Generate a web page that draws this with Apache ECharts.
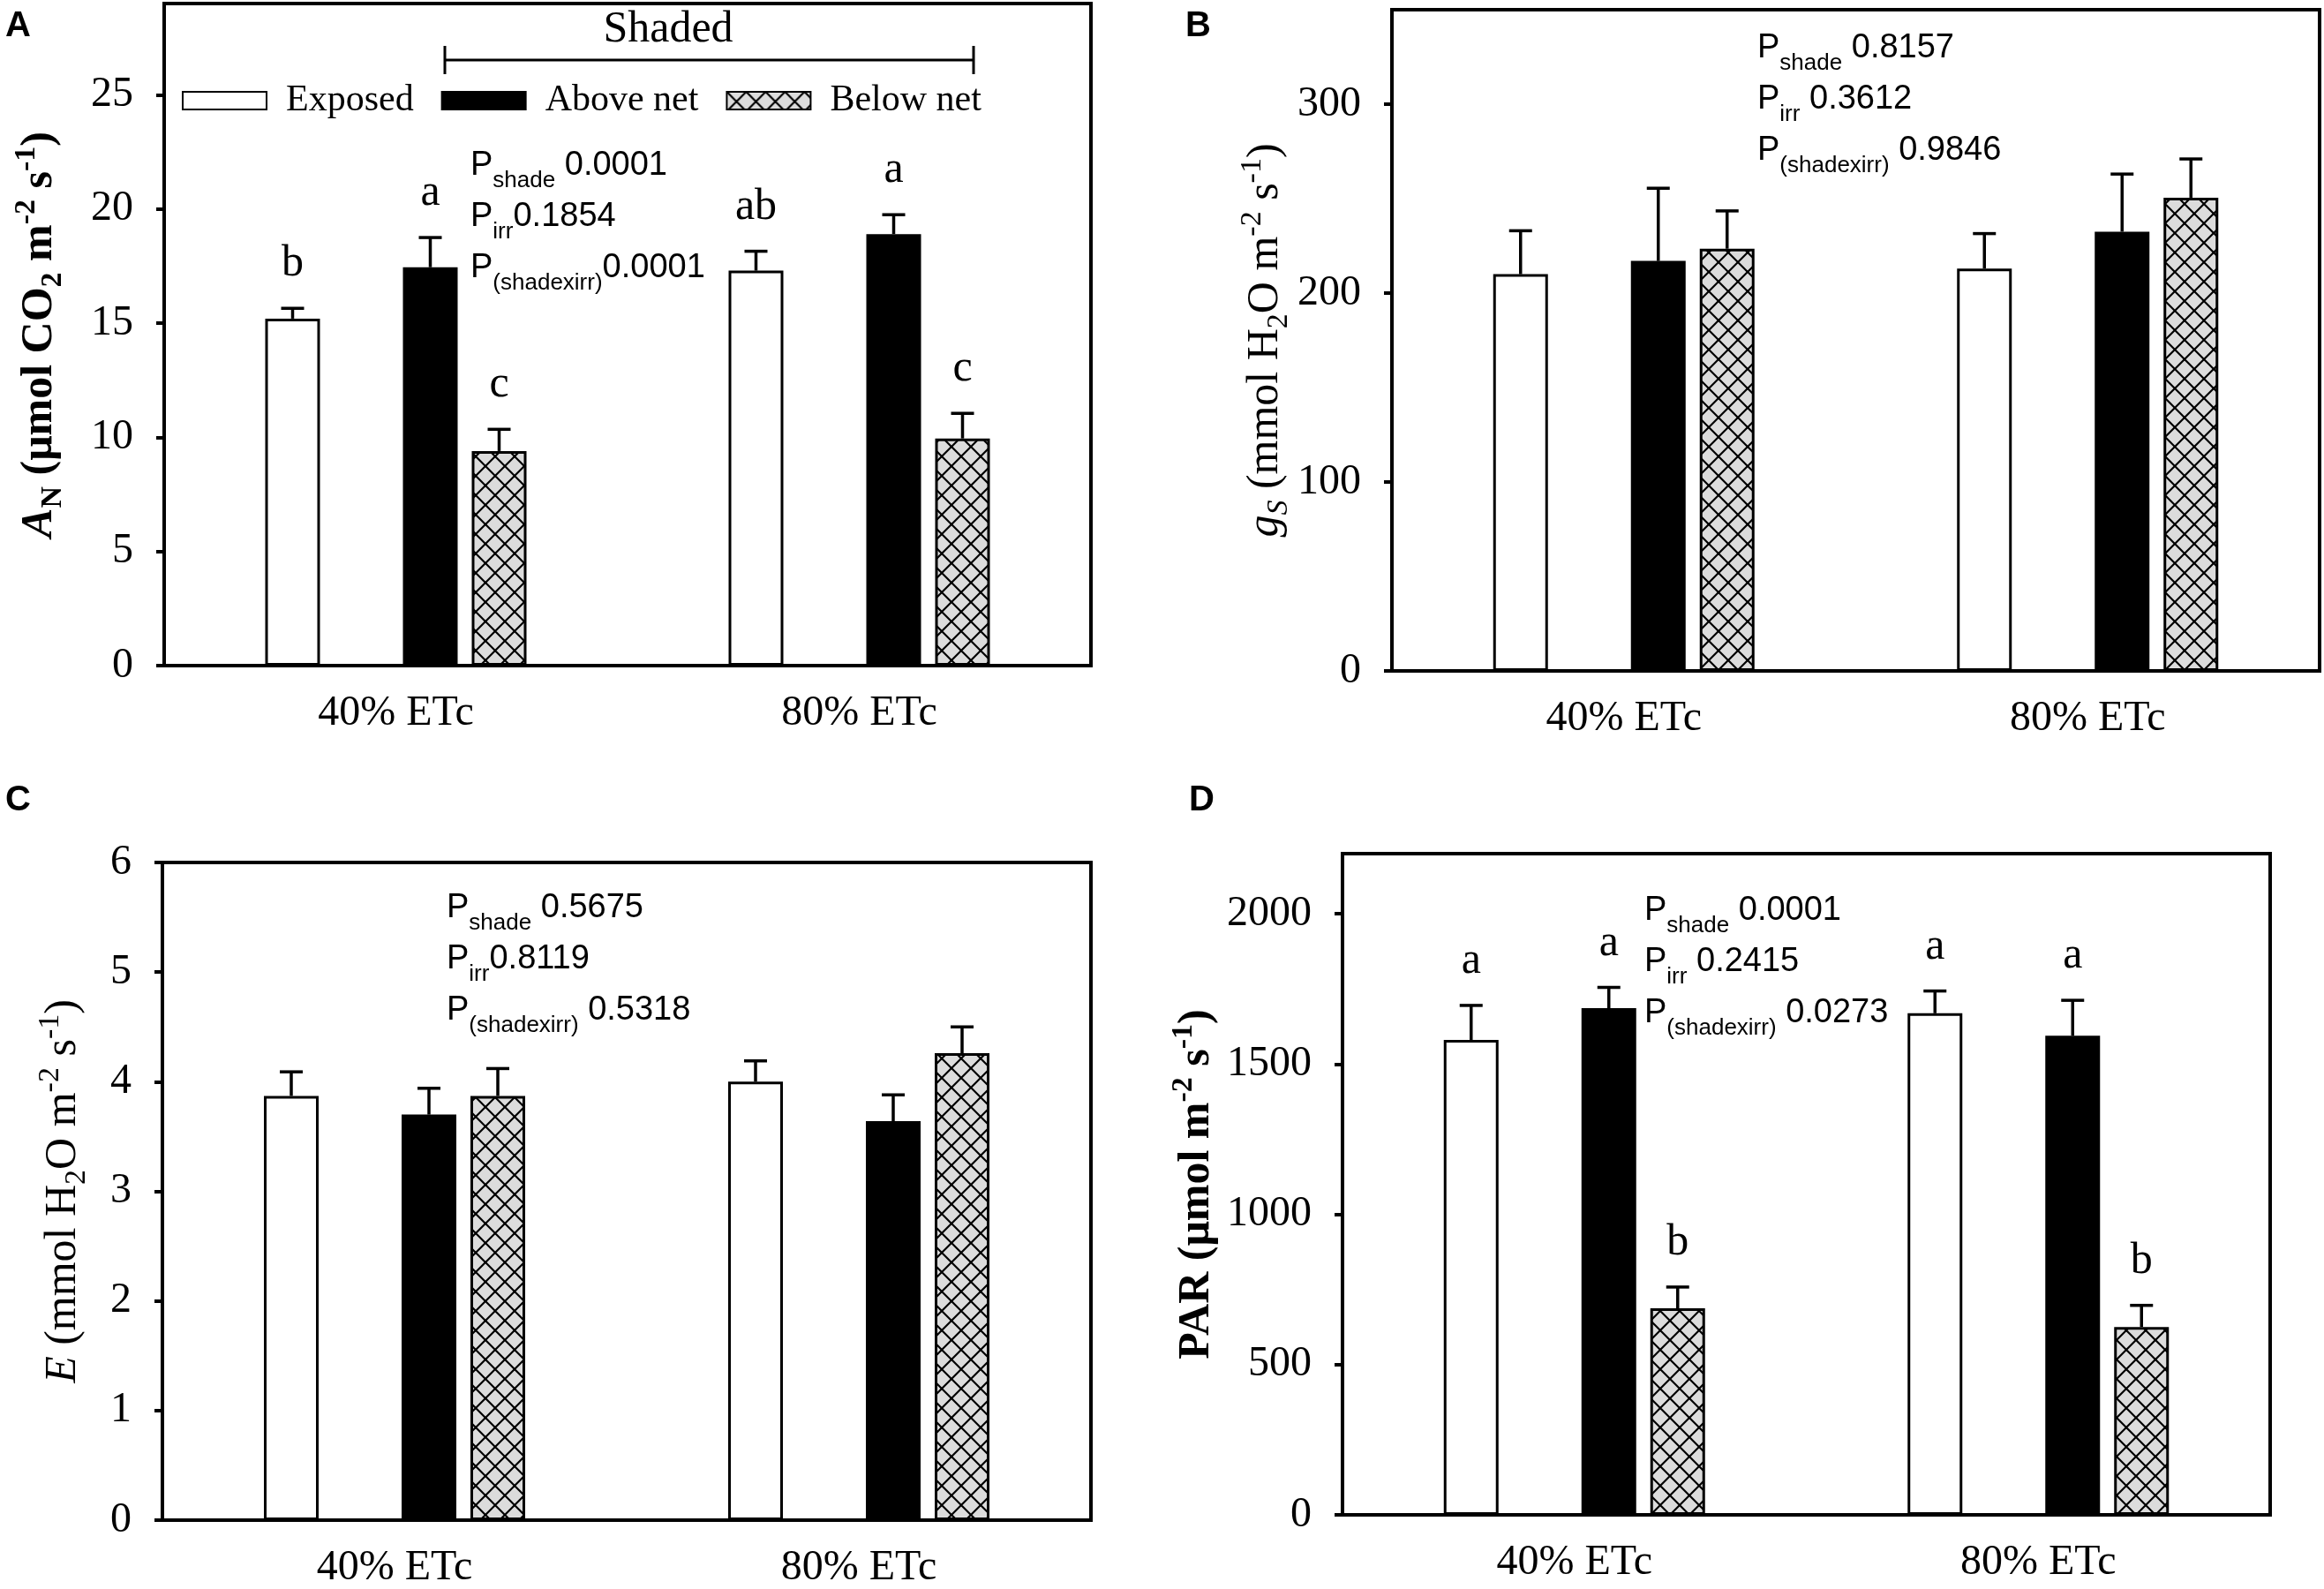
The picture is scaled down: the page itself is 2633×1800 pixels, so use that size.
<!DOCTYPE html>
<html><head><meta charset="utf-8">
<script src="https://cdn.jsdelivr.net/npm/echarts@6/dist/echarts.min.js"></script>
<style>html,body{margin:0;padding:0;background:#fff}#c{width:2633px;height:1800px}</style>
</head><body><div id="c"></div><script>
// ---------- data ----------
const categories = ['40% ETc', '80% ETc'];
const groupNames = ['Exposed', 'Above net', 'Below net'];

// Panel A: net assimilation A_N
const anExposed = [15.2, 17.3];   const anExposedErr = [0.45, 0.85];
const anAbove   = [17.45, 18.9];  const anAboveErr   = [1.3, 0.85];
const anBelow   = [9.4, 9.95];    const anBelowErr   = [0.95, 1.1];
const anExposedLetters = ['b', 'ab'];
const anAboveLetters   = ['a', 'a'];
const anBelowLetters   = ['c', 'c'];
const anTicks = [0, 5, 10, 15, 20, 25];
const anP = ['0.0001', '0.1854', '0.0001'];

// Panel B: stomatal conductance gs
const gsExposed = [210, 213];     const gsExposedErr = [23, 18.5];
const gsAbove   = [217, 232.5];   const gsAboveErr   = [38.5, 30.5];
const gsBelow   = [223.5, 250.5]; const gsBelowErr   = [20, 20.5];
const gsTicks = [0, 100, 200, 300];
const gsP = ['0.8157', '0.3612', '0.9846'];

// Panel C: transpiration E
const eExposed = [3.87, 4.0];     const eExposedErr = [0.22, 0.19];
const eAbove   = [3.70, 3.64];    const eAboveErr   = [0.24, 0.24];
const eBelow   = [3.87, 4.26];    const eBelowErr   = [0.25, 0.24];
const eTicks = [0, 1, 2, 3, 4, 5, 6];
const eP = ['0.5675', '0.8119', '0.5318'];

// Panel D: PAR
const parExposed = [1580, 1669];  const parExposedErr = [115, 74];
const parAbove   = [1686, 1594];  const parAboveErr   = [69, 118];
const parBelow   = [687, 625];    const parBelowErr   = [71, 72];
const parExposedLetters = ['a', 'a'];
const parAboveLetters   = ['a', 'a'];
const parBelowLetters   = ['b', 'b'];
const parTicks = [0, 500, 1000, 1500, 2000];
const parP = ['0.0001', '0.2415', '0.0273'];

// ---------- styling / layout ----------
const SERIF = 'Liberation Serif';
const SANS = 'Liberation Sans';
const BAR_W = 62, BAR_GAP_PX = 16;
const slotOffset = s => (s - 1.5) * (BAR_W + BAR_GAP_PX);

const hatch = (function () {
  const c = document.createElement('canvas');
  c.width = 22; c.height = 22;
  const g = c.getContext('2d');
  g.fillStyle = '#dcdcdc'; g.fillRect(0, 0, 22, 22);
  g.strokeStyle = '#000'; g.lineWidth = 2.2;
  g.beginPath(); g.moveTo(0, 0); g.lineTo(22, 22); g.moveTo(22, 0); g.lineTo(0, 22); g.stroke();
  return c;
})();

const groupStyles = [
  { color: '#ffffff', borderColor: '#000', borderWidth: 3 },
  { color: '#000000', borderColor: '#000', borderWidth: 3 },
  { color: { image: hatch, repeat: 'repeat' }, borderColor: '#000', borderWidth: 3 }
];
const groupSlots = [0, 2, 3];

const panels = [
  { grid: { left: 186, top: 4, width: 1050, height: 750 }, max: 29, interval: 5, ticks: anTicks,
    vals: [anExposed, anAbove, anBelow], errs: [anExposedErr, anAboveErr, anBelowErr],
    letters: [anExposedLetters, anAboveLetters, anBelowLetters],
    name: '{i|A}{sub|N}{t| (μmol CO}{sub|2}{t| m}{sup|-2}{t| s}{sup|-1}{t|)}', nameGap: 109, bold: true },
  { grid: { left: 1577, top: 11, width: 1051, height: 749 }, max: 350, interval: 100, ticks: gsTicks,
    vals: [gsExposed, gsAbove, gsBelow], errs: [gsExposedErr, gsAboveErr, gsBelowErr], letters: null,
    name: '{i|g}{isub|S}{t| (mmol H}{sub|2}{t|O m}{sup|-2}{t| s}{sup|-1}{t|)}', nameGap: 105, bold: false },
  { grid: { left: 184, top: 977, width: 1052, height: 749 }, max: 6, interval: 1, ticks: eTicks,
    vals: [eExposed, eAbove, eBelow], errs: [eExposedErr, eAboveErr, eBelowErr], letters: null,
    name: '{i|E}{t| (mmol H}{sub|2}{t|O m}{sup|-2}{t| s}{sup|-1}{t|)}', nameGap: 80, bold: false },
  { grid: { left: 1521, top: 967, width: 1051, height: 749 }, max: 2200, interval: 500, ticks: parTicks,
    vals: [parExposed, parAbove, parBelow], errs: [parExposedErr, parAboveErr, parBelowErr],
    letters: [parExposedLetters, parAboveLetters, parBelowLetters],
    name: '{t|PAR (μmol m}{sup|-2}{t| s}{sup|-1}{t|)}', nameGap: 133, bold: true }
];

function titleRich(bold) {
  const w = bold ? 'bold' : 'normal';
  return {
    t: { fontFamily: SERIF, fontSize: 50, fontWeight: w, color: '#000', lineHeight: 64 },
    i: { fontFamily: SERIF, fontSize: 50, fontWeight: w, fontStyle: 'italic', color: '#000', lineHeight: 64 },
    isub: { fontFamily: SERIF, fontSize: 34, fontWeight: w, fontStyle: 'italic', color: '#000', lineHeight: 34, verticalAlign: 'bottom' },
    sub: { fontFamily: SERIF, fontSize: 34, fontWeight: w, color: '#000', lineHeight: 34, verticalAlign: 'bottom' },
    sup: { fontFamily: SERIF, fontSize: 34, fontWeight: w, color: '#000', lineHeight: 34, verticalAlign: 'top' }
  };
}

function errRender(slot, errs, letters) {
  return function (params, api) {
    const i = api.value(0), v = api.value(1), e = errs[i];
    const base = api.coord([i, v]);
    const top = api.coord([i, v + e]);
    const x = base[0] + slotOffset(slot);
    const children = [
      { type: 'line', shape: { x1: x, y1: base[1], x2: x, y2: top[1] }, style: { stroke: '#000', lineWidth: 3.5 } },
      { type: 'line', shape: { x1: x - 13, y1: top[1], x2: x + 13, y2: top[1] }, style: { stroke: '#000', lineWidth: 3.5 } }
    ];
    if (letters) {
      children.push({ type: 'text', style: { text: letters[i], x: x, y: top[1] - 25, align: 'center',
        verticalAlign: 'bottom', fontFamily: SERIF, fontSize: 50, fill: '#000' } });
    }
    return { type: 'group', children };
  };
}

const grids = [], xAxes = [], yAxes = [], series = [];
panels.forEach((p, gi) => {
  grids.push(Object.assign({ show: true, borderColor: '#000', borderWidth: 4, backgroundColor: 'transparent' }, p.grid));
  xAxes.push({ gridIndex: gi, type: 'category', data: categories,
    axisLine: { show: true, lineStyle: { color: '#000', width: 4 } },
    axisTick: { show: false },
    axisLabel: { color: '#000', fontFamily: SERIF, fontSize: 48, margin: 30 } });
  yAxes.push({ gridIndex: gi, type: 'value', min: 0, max: p.max, interval: p.interval,
    name: p.name, nameLocation: 'middle', nameGap: p.nameGap, nameRotate: 90,
    nameTextStyle: { fontFamily: SERIF, fontSize: 50, color: '#000', rich: titleRich(p.bold) },
    axisLine: { show: true, lineStyle: { color: '#000', width: 4 } },
    axisTick: { show: true, inside: false, length: 9, lineStyle: { color: '#000', width: 4 }, customValues: p.ticks },
    axisLabel: { color: '#000', fontFamily: SERIF, fontSize: 48, margin: 35, customValues: p.ticks,
      formatter: v => String(v) },
    splitLine: { show: false } });
  // bars: slot 0 exposed, slot 1 spacer, slot 2 above, slot 3 below
  const barOrder = [0, -1, 1, 2];
  barOrder.forEach(g => {
    if (g < 0) {
      series.push({ type: 'bar', name: '_spacer', xAxisIndex: gi, yAxisIndex: gi, data: ['-', '-'],
        barWidth: BAR_W, barGap: (BAR_GAP_PX / BAR_W * 100) + '%', silent: true, itemStyle: { color: 'transparent' } });
    } else {
      series.push({ type: 'bar', name: groupNames[g], xAxisIndex: gi, yAxisIndex: gi, data: p.vals[g],
        barWidth: BAR_W, barGap: (BAR_GAP_PX / BAR_W * 100) + '%', itemStyle: groupStyles[g], z: 2 });
    }
  });
  [0, 1, 2].forEach(g => {
    series.push({ type: 'custom', xAxisIndex: gi, yAxisIndex: gi, z: 5, silent: true,
      data: categories.map((c, i) => [i, p.vals[g][i]]),
      encode: { x: 0, y: 1 },
      renderItem: errRender(groupSlots[g], p.errs[g], p.letters ? p.letters[g] : null) });
  });
});

// P-value annotation blocks
const pRich = {
  p: { fontFamily: SANS, fontSize: 38, color: '#000', lineHeight: 60 },
  s: { fontFamily: SANS, fontSize: 26, color: '#000', lineHeight: 24, verticalAlign: 'bottom' }
};
function pBlock(left, firstCenter, vals, gaps) {
  const subs = ['shade', 'irr', '(shadexirr)'];
  return subs.map((s, k) => ({
    type: 'text', x: left, y: firstCenter + k * 58,
    style: { text: '{p|P}{s|' + s + '}{p|' + (gaps[k] ? ' ' : '') + vals[k] + '}', rich: pRich,
      verticalAlign: 'middle', align: 'left' }
  }));
}
const panelLabel = (t, x, y) => ({ type: 'text', x: x, y: y,
  style: { text: t, fontFamily: SANS, fontWeight: 'bold', fontSize: 40, fill: '#000', verticalAlign: 'middle', align: 'left' } });

const graphics = [].concat(
  pBlock(533, 188, anP, [true, false, false]),
  pBlock(1991, 55, gsP, [true, true, true]),
  pBlock(506, 1029, eP, [true, false, true]),
  pBlock(1863, 1032, parP, [true, true, true]),
  [
    panelLabel('A', 6, 30), panelLabel('B', 1343, 30), panelLabel('C', 6, 907), panelLabel('D', 1347, 907),
    { type: 'text', x: 757, y: 34, style: { text: 'Shaded', fontFamily: SERIF, fontSize: 50, fill: '#000', align: 'center', verticalAlign: 'middle' } },
    { type: 'line', shape: { x1: 504, y1: 68, x2: 1103, y2: 68 }, style: { stroke: '#000', lineWidth: 3 } },
    { type: 'line', shape: { x1: 504, y1: 52, x2: 504, y2: 84 }, style: { stroke: '#000', lineWidth: 3 } },
    { type: 'line', shape: { x1: 1103, y1: 52, x2: 1103, y2: 84 }, style: { stroke: '#000', lineWidth: 3 } }
  ]
);

const chart = echarts.init(document.getElementById('c'), null, { renderer: 'canvas' });
chart.setOption({
  animation: false,
  backgroundColor: '#fff',
  grid: grids, xAxis: xAxes, yAxis: yAxes, series: series,
  legend: { data: groupNames, left: 201, top: 88, itemWidth: 95, itemHeight: 20, itemGap: 31, icon: 'rect',
    selectedMode: false,
    textStyle: { fontFamily: SERIF, fontSize: 42, color: '#000', padding: [0, 0, 0, 17] } },
  graphic: graphics
});
</script></body></html>
